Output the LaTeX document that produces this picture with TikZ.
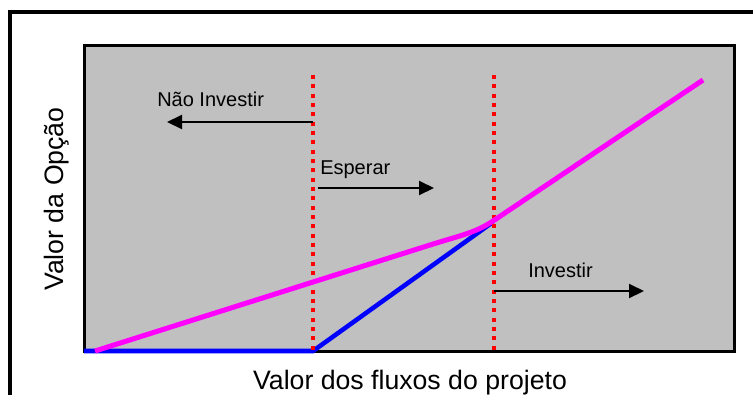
\documentclass[tikz,border=0pt]{standalone}
\usepackage{fontspec}
\setmainfont{Liberation Sans}
\usetikzlibrary{arrows.meta}
\definecolor{plotgray}{HTML}{C0C0C0}
\definecolor{mag}{HTML}{FF00FF}
\definecolor{dotred}{HTML}{FF0000}
\definecolor{pblue}{HTML}{0000FF}
\tikzset{
  frameline/.style={draw=black, line width=3pt},
  plotbox/.style={fill=plotgray, draw=black, line width=2.25pt},
  divider/.style={draw=dotred, line width=3pt, dash pattern=on 3pt off 4pt},
  payoff/.style={draw=pblue, line width=3.4pt},
  optval/.style={draw=mag, line width=3.8pt},
  regionarrow/.style={draw=black, line width=1.5pt, -{Triangle[length=11.25pt, width=10.5pt]}},
  innerlabel/.style={font=\fontsize{15pt}{18pt}\selectfont, inner sep=0pt, anchor=base west},
  axislabel/.style={font=\fontsize{20pt}{24pt}\selectfont, inner sep=0pt, anchor=base}
}
\begin{document}
\begin{tikzpicture}[x=0.75pt,y=-0.75pt]
\useasboundingbox (0,0) rectangle (753,394);
\clip (0,0) rectangle (753,394);
% outer frame (cut off at right and bottom)
\draw[frameline] (10,12) rectangle (790,430);
% plot area
\path[plotbox] (84,45) rectangle (734.5,351);
% coordinates
\coordinate (b0) at (84,351);
\coordinate (k1) at (313,351);
\coordinate (k2) at (493,222);
\coordinate (d1top) at (313,75);
\coordinate (d1bot) at (313,351);
\coordinate (d2top) at (494,75);
\coordinate (d2bot) at (494,351);
\coordinate (m0) at (95,351);
\coordinate (m1) at (430,245);
\coordinate (m2) at (493,221);
\coordinate (m3) at (703,80);
% payoff (blue)
\draw[payoff] (b0) -- (k1) -- (k2);
% dotted dividers
\draw[divider] (d1top) -- (d1bot);
\draw[divider] (d2top) -- (d2bot);
% option value (magenta)
\draw[optval] (m0) -- (m1) .. controls (460,235.5) and (475,233) .. (m2) -- (m3);
% arrows
\coordinate (a1s) at (313,122);
\coordinate (a1e) at (167,122);
\coordinate (a2s) at (318,188);
\coordinate (a2e) at (434,188);
\coordinate (a3s) at (494,291);
\coordinate (a3e) at (644,291);
\draw[regionarrow] (a1s) -- (a1e);
\draw[regionarrow] (a2s) -- (a2e);
\draw[regionarrow] (a3s) -- (a3e);
% labels
\node[innerlabel] (lnao) at (157,106) {Não Investir};
\node[innerlabel] (lesp) at (320,174) {Esperar};
\node[innerlabel] (linv) at (528,277) {Investir};
\node[axislabel] (xlab) at (410,389) {Valor dos fluxos do projeto};
\node[axislabel, rotate=90] (ylab) at (63,199) {Valor da Opção};
\end{tikzpicture}
\end{document}
